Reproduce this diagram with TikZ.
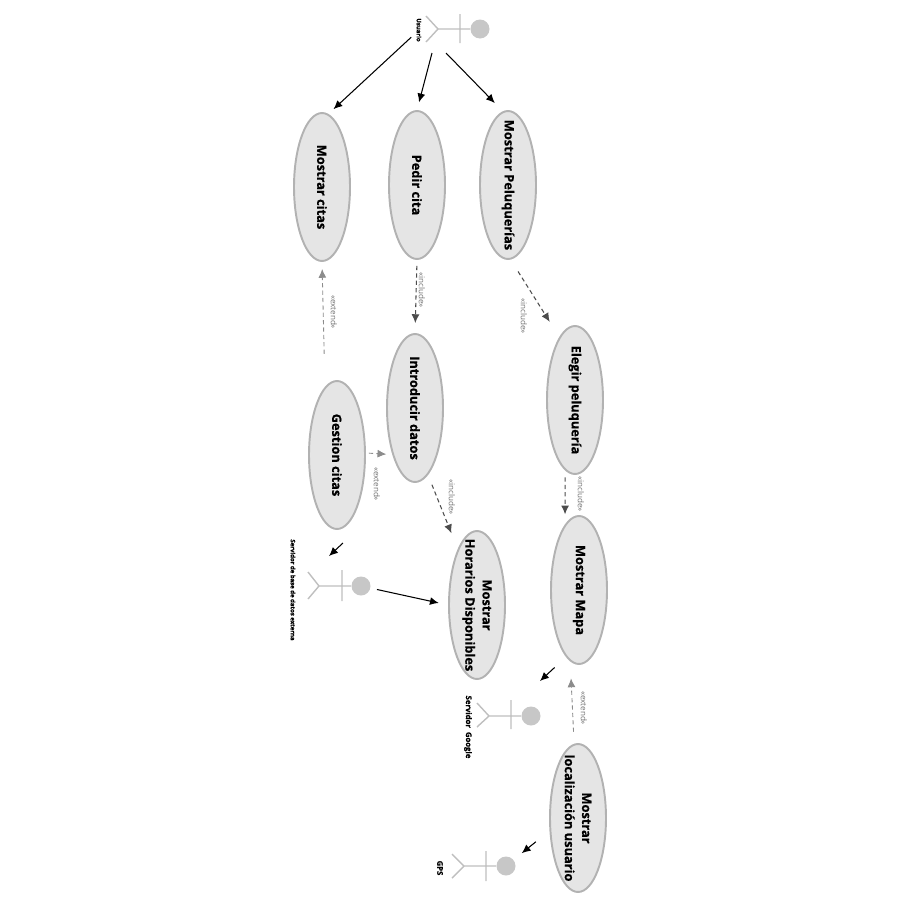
\documentclass[tikz,border=0pt]{standalone}
\usepackage{fontspec}
\setmainfont{Open Sans}[BoldFeatures={FakeBold=0.6}]
\usetikzlibrary{shapes.geometric,arrows.meta}

\begin{document}
\begin{tikzpicture}[x=0.02cm,y=-0.02cm,
		usecase/.style={ellipse,draw=black!30,fill=black!10,line width=1.1pt,rotate=-90,minimum width=2.96cm,minimum height=1.12cm,inner sep=-0.5cm,align=center,font=\fontsize{7.3}{9.8}\selectfont\bfseries},
		actorline/.style={draw=black!25,line width=0.8pt},
		actorhead/.style={circle,fill=black!22,minimum size=0.38cm,inner sep=0pt},
		actorname/.style={rotate=-90,inner sep=0pt,font=\fontsize{3.4}{4}\selectfont\bfseries},
		stereo/.style={rotate=-90,inner sep=0pt,font=\fontsize{4.6}{5}\selectfont,text=black!55},
		assoc/.style={-{Latex[length=5pt,width=4.5pt]},line width=0.6pt},
		incl/.style={-{Latex[length=5pt,width=4.5pt]},dashed,line width=0.6pt,draw=black!70,dash pattern=on 2.4pt off 1.8pt},
		ext/.style={-{Latex[length=5pt,width=4.5pt]},dashed,line width=0.5pt,draw=black!45,dash pattern=on 2.4pt off 1.8pt}]
		\useasboundingbox (0,0) rectangle (900,900);
		% casos de uso
		\node[usecase] (citas) at (322,187) {Mostrar citas};
		\node[usecase] (pedir) at (417,185) {Pedir cita};
		\node[usecase] (pelu) at (508,185) {Mostrar Peluquerías};
		\node[usecase] (elegir) at (575,400) {Elegir peluquería};
		\node[usecase] (intro) at (415,408) {Introducir datos};
		\node[usecase] (gestion) at (337,455) {Gestion citas};
		\node[usecase] (horarios) at (477,605) {Mostrar\\Horarios Disponibles};
		\node[usecase] (mapa) at (579,590) {Mostrar Mapa};
		\node[usecase] (local) at (578,818) {Mostrar\\localización usuario};
		% actores
		\node[actorhead] (usuarioHead) at (480,29) {};
		\draw[actorline] (usuarioHead)--(438,29)--(426,16) (438,29)--(426,42) (460,14)--(460,43);
		\node[actorname] (usuario) at (419,30) {Usuario};
		\node[actorhead] (bdHead) at (361,586) {};
		\draw[actorline] (bdHead)--(319,586)--(308,572) (319,586)--(308,599) (342,570)--(342,601);
		\node[actorname] (bd) at (293,590) {Servidor de base de datos externa};
		\node[actorhead] (googleHead) at (531,716) {};
		\draw[actorline] (googleHead)--(489,716)--(477,703) (489,716)--(477,727) (511,700)--(511,729);
		\node[actorname,font=\fontsize{4.4}{5}\selectfont\bfseries] (google) at (468,727) {Servidor\ \ Google};
		\node[actorhead] (gpsHead) at (506,866) {};
		\draw[actorline] (gpsHead)--(464,866)--(452,854) (464,866)--(452,878) (486,851)--(486,881);
		\node[actorname,font=\fontsize{4.4}{5}\selectfont\bfseries] (gps) at (440,868) {GPS};
		% extremos libres
		\coordinate (usuarioB) at (432,53);
		\coordinate (usuarioC) at (446,53);
		\coordinate (gestionOut) at (343,543);
		\coordinate (bdIn) at (329,556);
		\coordinate (googleIn) at (540,681);
		% flechas
		\draw[assoc,shorten <=1.4mm,shorten >=1.4mm] (usuario)--(citas.175);
		\draw[assoc,shorten >=1.6mm] (usuarioB)--(pedir.180);
		\draw[assoc,shorten >=2.3mm] (usuarioC)--(pelu.184);
		\draw[assoc] (gestionOut)--(bdIn);
		\draw[assoc,shorten <=1.3mm,shorten >=1.9mm] (bdHead)--(horarios.270);
		\draw[assoc,shorten <=3.1mm] (mapa.349)--(googleIn);
		\draw[assoc,shorten <=3.5mm,shorten >=2.1mm] (local.294)--(gpsHead);
		\draw[incl,shorten <=1.2mm,shorten >=2mm] (pedir.0)--(intro.180);
		\draw[incl,shorten <=2.8mm,shorten >=3.6mm] (pelu.2)--(elegir.194);
		\draw[incl,shorten <=1.4mm,shorten >=2mm] (elegir.352)--(mapa.192);
		\draw[incl,shorten <=2.1mm,shorten >=3.4mm] (intro.11)--(horarios.199);
		\draw[ext,shorten <=6.6mm,shorten >=1.4mm] (gestion.190)--(citas.0);
		\draw[ext,shorten <=0.6mm,shorten >=1.2mm] (gestion.94)--(intro.334);
		\draw[ext,shorten <=2.4mm,shorten >=3.4mm] (local.183)--(mapa.353);
		% estereotipos
		\node[stereo] (extA) at (334,312) {«extend»};
		\node[stereo] (inclA) at (422,290) {«include»};
		\node[stereo] (inclB) at (524,316) {«include»};
		\node[stereo] (extB) at (377,484) {«extend»};
		\node[stereo] (inclC) at (452,497) {«include»};
		\node[stereo] (inclD) at (581,494) {«include»};
		\node[stereo] (extC) at (584,708) {«extend»};
	\end{tikzpicture}
\end{document}
